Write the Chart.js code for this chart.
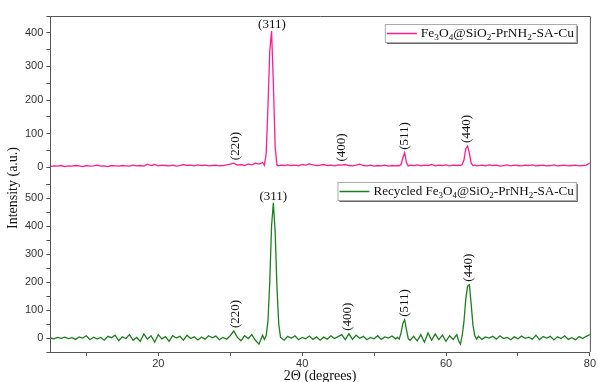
<!DOCTYPE html>
<html>
<head>
<meta charset="utf-8">
<script src="https://cdn.jsdelivr.net/npm/chart.js@4.4.1/dist/chart.umd.min.js"></script>
<style>
  body { margin: 0; background: #fff; }
</style>
</head>
<body>
<canvas id="xrd" width="598" height="382"></canvas>
<script>
// 2-theta positions (degrees), finer around the reflections
const angles = [
  5, 5.5, 6, 6.5, 7, 7.5, 8, 8.5, 9, 9.5, 10, 10.5, 11, 11.5, 12, 12.5, 13, 13.5, 14, 14.5,
  15, 15.5, 16, 16.5, 17, 17.5, 18, 18.5, 19, 19.5, 20, 20.5, 21, 21.5, 22, 22.5, 23, 23.5, 24, 24.5,
  25, 25.5, 26, 26.5, 27, 27.5, 28, 28.5, 29, 29.5, 30, 30.5, 31, 31.5, 32, 32.5, 33, 33.5, 34, 34.5,
  34.75, 35, 35.25, 35.5, 35.75, 36, 36.25, 36.5, 36.75, 37,
  37.5, 38, 38.5, 39, 39.5, 40, 40.5, 41, 41.5, 42, 42.5, 43, 43.5, 44, 44.5, 45,
  45.5, 46, 46.5, 47, 47.5, 48, 48.5, 49, 49.5, 50, 50.5, 51, 51.5, 52, 52.5, 53,
  53.25, 53.5, 53.75, 54, 54.25, 54.5, 54.75, 55,
  55.5, 56, 56.5, 57, 57.5, 58, 58.5, 59, 59.5, 60, 60.5, 61, 61.5,
  61.75, 62, 62.25, 62.5, 62.75, 63, 63.25, 63.5, 63.75, 64, 64.25, 64.5,
  65, 65.5, 66, 66.5, 67, 67.5, 68, 68.5, 69, 69.5, 70, 70.5, 71, 71.5, 72, 72.5,
  73, 73.5, 74, 74.5, 75, 75.5, 76, 76.5, 77, 77.5, 78, 78.5, 79, 79.5, 80
];

// Fe3O4@SiO2-PrNH2-SA-Cu (fresh)
const freshIntensity = [
  2, 4, 3, 5, 2, 4, 3, 5, 4, 2, 5, 3, 4, 6, 3, 4, 2, 5, 4, 3,
  5, 4, 3, 6, 4, 5, 3, 9, 5, 8, 4, 6, 5, 4, 6, 3, 5, 8, 5, 6,
  4, 7, 5, 6, 4, 5, 6, 4, 5, 7, 9, 12, 6, 8, 5, 10, 7, 12, 9, 14,
  6, 40, 180, 345, 405, 250, 60, 6, 4, 6,
  5, 7, 5, 6, 4, 8, 6, 10, 7, 5, 6, 8, 5, 6, 4, 7,
  6, 8, 5, 4, 6, 9, 5, 4, 6, 3, 5, 4, 6, 3, 5, 4,
  5, 4, 8, 28, 43, 14, 4, 6,
  5, 7, 4, 6, 5, 8, 4, 6, 5, 7, 4, 6, 5,
  6, 5, 8, 22, 55, 63, 42, 12, 5, 6, 4, 5,
  6, 4, 7, 5, 6, 3, 5, 7, 4, 6, 5, 4, 6, 5, 7, 4,
  5, 6, 4, 5, 7, 4, 5, 6, 4, 5, 6, 4, 5, 6, 12
];

// Recycled catalyst
const recycledIntensity = [
  0, -3, 2, -1, 3, -2, 1, -5, 4, 0, 8, -6, 3, -4, 2, -8, 6, 1, 10, -10,
  4, -2, 12, -8, 2, -12, 14, -4, 8, -15, 12, -3, 5, -12, 8, 0, 6, -8, 10, -2,
  4, -7, 3, -4, 8, 1, 7, -6, 2, -4, 8, 25, 2, -10, 8, -2, 12, -8, -22, 10,
  -5, 8, 60, 200, 400, 483, 380, 180, 50, 2,
  -8, 6, -1, 8, -6, 2, -3, 7, -5, 4, -8, 3, -4, 8, -2, 5,
  12, -6, 15, -5, 10, -1, 6, -6, 2, -3, 8, -5, 4, 0, 7, -3,
  2, -4, 18, 52, 65, 30, -2, -8,
  6, -10, 12, -15, 18, -8, 14, -6, 10, -12, 8, -5, 12,
  -10, -22, 8, 60, 140, 185, 190, 120, 45, 8, -4, 6,
  -5, 4, 0, 6, -4, 8, -2, 2, -6, 4, -3, 7, -1, 3, -4, 10,
  -6, 5, 0, 6, -7, 4, -2, 8, -5, 1, -6, 5, -2, 6, 12
];

// reflections (hkl) marked on each pattern
const hklLabels = ['(220)', '(311)', '(400)', '(511)', '(440)'];
const freshPeakAngle = [30.8, 35.8, 45.5, 54.2, 62.9];
const freshPeakHeight = [12, 405, 8, 43, 63];
const recycledPeakAngle = [30.8, 36.0, 46.3, 54.3, 63.2];
const recycledPeakHeight = [25, 483, 15, 65, 190];

const freshLabel = 'Fe₃O₄@SiO₂-PrNH₂-SA-Cu';
const recycledLabel = 'Recycled Fe₃O₄@SiO₂-PrNH₂-SA-Cu';

const pink = '#ff1f8c';
const green = '#1f7d1f';
const serif = '"Liberation Serif", "Times New Roman", serif';
const subs = '₀₁₂₃₄₅₆₇₈₉';

// text with subscript digits
function drawRich(ctx, text, x, y, size, measureOnly) {
  let cx = x;
  for (const ch of text) {
    const k = subs.indexOf(ch);
    if (k >= 0) {
      ctx.font = (size * 0.68) + 'px ' + serif;
      if (!measureOnly) ctx.fillText(String(k), cx, y + size * 0.3);
      cx += ctx.measureText(String(k)).width;
    } else {
      ctx.font = size + 'px ' + serif;
      if (!measureOnly) ctx.fillText(ch, cx, y);
      cx += ctx.measureText(ch).width;
    }
  }
  return cx - x;
}

const framePlugin = {
  id: 'frame',
  afterDraw(chart) {
    const ctx = chart.ctx;
    const a = chart.chartArea;
    ctx.save();
    ctx.strokeStyle = '#555';
    ctx.lineWidth = 1;
    ctx.beginPath();
    ctx.moveTo(a.left, a.top + 0.5);
    ctx.lineTo(a.right + 0.5, a.top + 0.5);
    ctx.lineTo(a.right + 0.5, a.bottom);
    ctx.stroke();

    // y title shared by both panels
    ctx.fillStyle = '#111';
    ctx.font = '14px ' + serif;
    ctx.textAlign = 'center';
    ctx.textBaseline = 'middle';
    ctx.translate(13, (a.top + a.bottom) / 2 + 4);
    ctx.rotate(-Math.PI / 2);
    ctx.fillText('Intensity (a.u.)', 0, 0);
    ctx.restore();
  }
};

const peakPlugin = {
  id: 'peaks',
  afterDatasetsDraw(chart) {
    const ctx = chart.ctx;
    const x = chart.scales.x;
    const sets = [
      [chart.scales.yFresh, freshPeakAngle, freshPeakHeight],
      [chart.scales.yRecycled, recycledPeakAngle, recycledPeakHeight]
    ];
    ctx.save();
    ctx.fillStyle = '#111';
    ctx.font = '13px ' + serif;
    sets.forEach(([ys, ang, hgt]) => {
      hklLabels.forEach((t, i) => {
        const px = x.getPixelForValue(ang[i]);
        const py = ys.getPixelForValue(hgt[i]);
        if (t === '(311)') {
          ctx.textAlign = 'center';
          ctx.textBaseline = 'bottom';
          ctx.fillText(t, px, py);
        } else {
          ctx.save();
          ctx.translate(px, py - 3);
          ctx.rotate(-Math.PI / 2);
          ctx.textAlign = 'left';
          ctx.textBaseline = 'middle';
          ctx.fillText(t, 0, 0);
          ctx.restore();
        }
      });
    });
    ctx.restore();
  }
};

const legendPlugin = {
  id: 'panelLegends',
  afterDraw(chart) {
    const ctx = chart.ctx;
    const a = chart.chartArea;
    ctx.save();
    chart.data.datasets.forEach(ds => {
      const ys = chart.scales[ds.yAxisID];
      const fresh = ds.yAxisID === 'yFresh';
      const size = fresh ? 13.5 : 13.1;
      const top = fresh ? ys.top + 8 : ys.top - 2;
      const h = 18;
      const textW = drawRich(ctx, ds.label, 0, 0, size, true);
      const right = a.right - 14;
      const left = right - (2 + 30 + 4 + textW + 2);
      ctx.fillStyle = '#fff';
      ctx.fillRect(left, top, right - left, h);
      ctx.strokeStyle = '#aaa';
      ctx.lineWidth = 1;
      ctx.strokeRect(left + 0.5, top + 0.5, right - left, h);
      ctx.strokeStyle = '#666';
      ctx.beginPath();
      ctx.moveTo(right + 1.5, top + 2);
      ctx.lineTo(right + 1.5, top + h + 1.5);
      ctx.lineTo(left + 2, top + h + 1.5);
      ctx.stroke();
      ctx.strokeStyle = ds.borderColor;
      ctx.lineWidth = 1.5;
      ctx.beginPath();
      ctx.moveTo(left + 2, top + h / 2 + 0.5);
      ctx.lineTo(left + 32, top + h / 2 + 0.5);
      ctx.stroke();
      ctx.fillStyle = '#111';
      ctx.textBaseline = 'middle';
      ctx.textAlign = 'left';
      drawRich(ctx, ds.label, left + 36, top + h / 2 + 0.5, size, false);
    });
    ctx.restore();
  }
};

function yAxis(min, max, weight) {
  return {
    type: 'linear',
    position: 'left',
    stack: 'xrd',
    stackWeight: 1,
    weight: weight,
    min: min,
    max: max,
    border: { color: '#555', width: 1 },
    grid: { drawOnChartArea: false, drawTicks: true, tickLength: 4, color: '#555' },
    ticks: {
      stepSize: 50,
      autoSkip: false,
      padding: 3,
      color: '#333',
      font: { family: '"Liberation Sans", Arial, sans-serif', size: 11 },
      callback: v => (v % 100 === 0 && v >= 0 && v <= max - 50) ? v : ''
    }
  };
}

new Chart(document.getElementById('xrd'), {
  type: 'line',
  data: {
    labels: angles,
    datasets: [
      {
        label: freshLabel,
        data: freshIntensity,
        yAxisID: 'yFresh',
        borderColor: pink,
        borderWidth: 1.3,
        pointRadius: 0,
        tension: 0
      },
      {
        label: recycledLabel,
        data: recycledIntensity,
        yAxisID: 'yRecycled',
        borderColor: green,
        borderWidth: 1.3,
        pointRadius: 0,
        tension: 0
      }
    ]
  },
  options: {
    responsive: false,
    animation: false,
    devicePixelRatio: 1,
    layout: { padding: { left: 22, top: 16, right: -3, bottom: -1 } },
    plugins: { legend: { display: false }, tooltip: { enabled: false } },
    scales: {
      x: {
        type: 'linear',
        min: 5,
        max: 80,
        border: { color: '#555', width: 1 },
        grid: { drawOnChartArea: false, drawTicks: true, tickLength: 4, color: '#555' },
        ticks: {
          stepSize: 10,
          includeBounds: false,
          autoSkip: false,
          maxRotation: 0,
          padding: 2,
          color: '#333',
          font: { family: '"Liberation Sans", Arial, sans-serif', size: 11, lineHeight: 1 },
          callback: v => v % 20 === 0 ? v : ''
        },
        title: {
          display: true,
          text: '2Θ (degrees)',
          color: '#111',
          font: { family: serif, size: 14, lineHeight: 1 },
          padding: { top: -2, bottom: 0 }
        }
      },
      yRecycled: yAxis(-50, 550, 0),
      yFresh: yAxis(-50, 450, 1)
    }
  },
  plugins: [framePlugin, peakPlugin, legendPlugin]
});
</script>
</body>
</html>
